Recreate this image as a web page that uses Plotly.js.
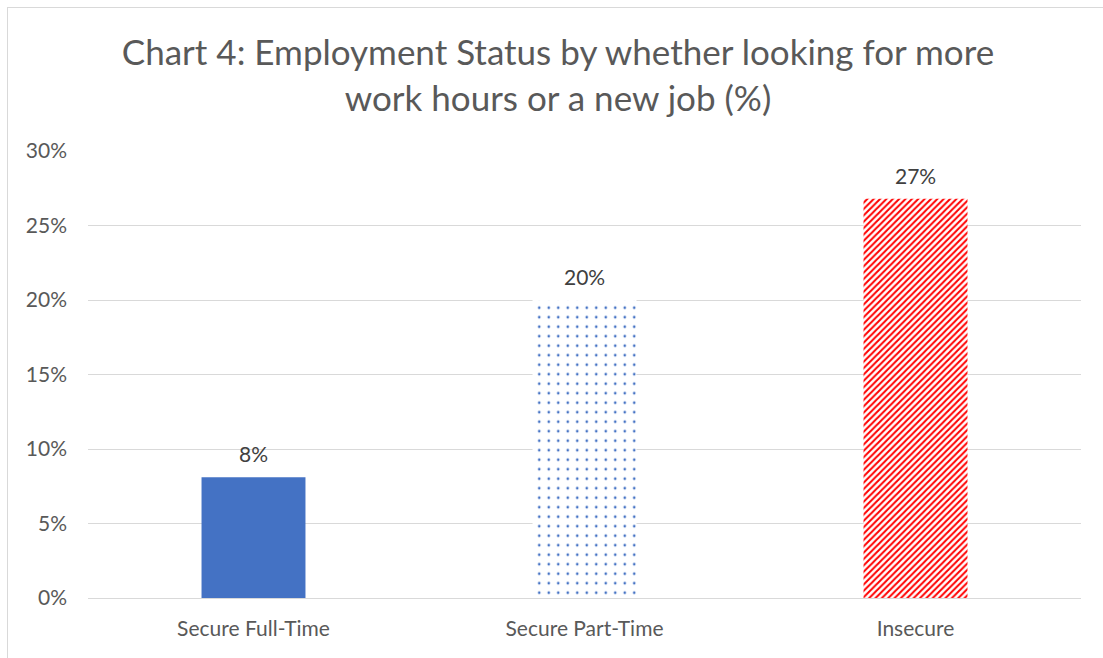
<!DOCTYPE html>
<html>
<head>
<meta charset="utf-8">
<script src="https://cdn.plot.ly/plotly-3.0.1.min.js"></script>
<style>
html,body{margin:0;padding:0;background:#fff;overflow:hidden;}
#chart{width:1103px;height:658px;}
#frame{position:absolute;left:7px;top:7px;width:1200px;height:800px;border-left:1px solid #D9D9D9;border-top:1px solid #D9D9D9;pointer-events:none;}
</style>
</head>
<body>
<div id="chart"></div>
<div id="frame"></div>
<script>
var categories = ["Secure Full-Time", "Secure Part-Time", "Insecure"];
var values = [8.1, 20.0, 26.8];
var labels = ["8%", "20%", "27%"];
var yTickVals = [0, 5, 10, 15, 20, 25, 30];
var yTickText = ["0%", "5%", "10%", "15%", "20%", "25%", "30%"];

var font = "Lato, 'Open Sans', 'Noto Sans', sans-serif";

var styles = [
  {color: "#4472C4", pattern: {shape: ""}},
  {color: "#ffffff", pattern: {shape: ".", fgcolor: "#4472C4", bgcolor: "#ffffff", fillmode: "replace", size: 9.5, solidity: 0.06}},
  {color: "#ffffff", pattern: {shape: "/", fgcolor: "#FF0000", bgcolor: "#ffffff", fillmode: "replace", size: 4.5, solidity: 0.45}}
];

var traces = categories.map(function (c, i) {
  return {
    type: "bar",
    x: [c],
    y: [values[i]],
    hoverinfo: "none",
    width: 0.314,
    marker: {color: styles[i].color, line: {width: 0}, pattern: styles[i].pattern}
  };
});

var annotations = categories.map(function (c, i) {
  return {
    x: c, y: values[i], xref: "x", yref: "y",
    text: labels[i], showarrow: false,
    yanchor: "bottom", yshift: 9,
    font: {family: font, size: 21, color: "#404040"}
  };
});

var layout = {
  width: 1103,
  height: 658,
  margin: {l: 88, r: 22, t: 151, b: 60},
  paper_bgcolor: "#ffffff",
  plot_bgcolor: "#ffffff",
  barmode: "overlay",
  showlegend: false,
  annotations: annotations,
  title: {
    text: "Chart 4: Employment Status by whether looking for more<br>work hours or a new job (%)",
    font: {family: font, size: 35, color: "#595959"},
    x: 558 / 1103,
    xanchor: "center",
    xref: "container",
    y: 1 - 65 / 658,
    yanchor: "top",
    yref: "container"
  },
  xaxis: {
    type: "category",
    showgrid: false,
    showline: true,
    linecolor: "#D9D9D9",
    linewidth: 1,
    ticks: "",
    ticklabelstandoff: 12,
    tickfont: {family: font, size: 21, color: "#595959"},
    fixedrange: true
  },
  yaxis: {
    range: [0, 30],
    tickvals: yTickVals,
    ticktext: yTickText,
    showgrid: true,
    gridcolor: "#D9D9D9",
    gridwidth: 1,
    zeroline: false,
    showline: false,
    ticks: "",
    ticklabelstandoff: 20,
    tickfont: {family: font, size: 21, color: "#595959"},
    fixedrange: true
  }
};

Plotly.newPlot("chart", traces, layout, {displayModeBar: false, staticPlot: true});
</script>
</body>
</html>
